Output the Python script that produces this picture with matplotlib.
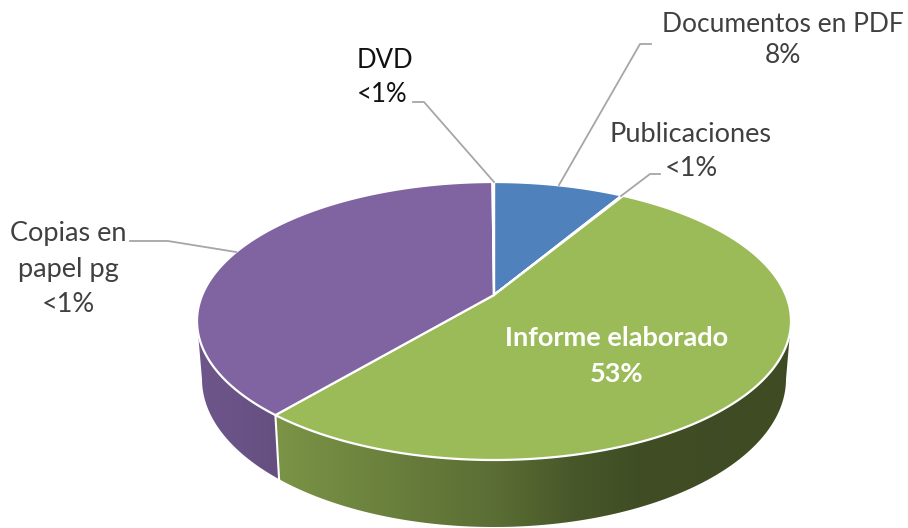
import numpy as np
import matplotlib
matplotlib.use('Agg')
import matplotlib.pyplot as plt
from matplotlib.patches import Polygon
from matplotlib.colors import to_rgb

# clockwise from 12 o'clock
names = ['Documentos en PDF', 'Publicaciones', 'Informe elaborado', 'Copias en papel pg', 'DVD']
values = [8.49, 0.1, 52.5, 38.81, 0.1]
colors = ['#4f81bd', '#c0504d', '#9bbb59', '#8064a2', '#4bacc6']
pct_labels = ['8%', '<1%', '53%', '<1%', '<1%']

# pie geometry in pixels
cx, cy = 494, 321
rx, ry = 297, 139
apex = 26
k = 2 * apex / (2 * ry)
ax_u = rx * np.sqrt(1 - k**2)
bot_cx, bot_cy, bot_rx, bot_ry = 494, 379, 292, 148

shade_x = [197, 277, 500, 570, 640, 800]
shade_y = [0.86, 0.79, 0.58, 0.47, 0.41, 0.40]


def project(frac, r=1.0):
    # pie fraction -> pixel position on top face, with perspective
    th = 2 * np.pi * np.asarray(frac)
    u = r * np.sin(th)
    v = r * np.cos(th)
    w = 1 + k * v
    return cx + ax_u * u / w, cy - ry * (v + apex / ry) / w


def bottom(x, y):
    return bot_cx + (x - cx) * bot_rx / rx, bot_cy + (y - cy) * bot_ry / ry


fig = plt.figure(figsize=(9.08, 5.28), dpi=100)
ax = fig.add_axes([0, 0, 1, 1])
ax.axis('off')

edges = np.concatenate([[0], np.cumsum(values)]) / sum(values)
xs = np.arange(908)
shade = np.interp(xs, shade_x, shade_y)

# only the part of the rim between the two extreme points faces the viewer
fine = np.linspace(0, 1, 2001)
fx, fy = project(fine)
front_a, front_b = fine[np.argmax(fx)], fine[np.argmin(fx)]

# side wall
for i in range(len(values)):
    a, b = max(edges[i], front_a), min(edges[i + 1], front_b)
    if b <= a:
        continue
    t = np.linspace(a, b, 200)
    x, y = project(t)
    bx, by = bottom(x, y)
    pts = np.column_stack([np.r_[x, bx[::-1]], np.r_[y, by[::-1]]])
    img = np.outer(shade, to_rgb(colors[i])).reshape(1, 908, 3)
    im = ax.imshow(img, extent=[0, 908, 528, 0], aspect='auto', zorder=1)
    clip = Polygon(pts, closed=True, transform=ax.transData, fc='none', ec='none')
    ax.add_patch(clip)
    im.set_clip_path(clip)

for e in edges[:-1]:
    if front_a < e < front_b:
        x, y = project(e)
        bx, by = bottom(x, y)
        ax.plot([x, bx], [y, by], color='white', lw=1.5, zorder=2)

# top face
for i in range(len(values)):
    t = np.linspace(edges[i], edges[i + 1], 200)
    x, y = project(t)
    ox, oy = project(0.0, 0.0)
    pts = np.column_stack([np.r_[ox, x], np.r_[oy, y]])
    ax.add_patch(Polygon(pts, closed=True, fc=colors[i], ec='white', lw=1.6, zorder=3, joinstyle='round'))

# labels
txt = '#404040'
fam = ['Lato', 'DejaVu Sans']
ax.text(783, 40, names[0] + '\n' + pct_labels[0], ha='center', va='center', fontsize=19, color=txt, linespacing=1.33, zorder=5, family=fam)
ax.text(691, 151, names[1] + '\n' + pct_labels[1], ha='center', va='center', fontsize=19.5, color=txt, linespacing=1.45, zorder=5, family=fam)
ax.text(617, 356, names[2] + '\n' + pct_labels[2], ha='center', va='center', fontsize=19.5, color='white', fontweight='bold', linespacing=1.55, zorder=5, family=fam)
ax.text(68, 269, 'Copias en\npapel pg\n' + pct_labels[3], ha='center', va='center', fontsize=19.5, color=txt, linespacing=1.5, zorder=5, family=fam)
ax.text(357, 77, names[4] + '\n' + pct_labels[4], ha='left', va='center', fontsize=18.5, color='#111111', linespacing=1.45, zorder=5, family=fam)

# leader lines
lead = '#a6a6a6'
ax.plot([413, 424, 494], [102, 102, 182], color=lead, lw=1.3, zorder=4)
ax.plot([651, 640, 559], [44, 44, 185], color=lead, lw=1.3, zorder=4)
ax.plot([660, 650, 621], [174, 174, 196], color=lead, lw=1.3, zorder=4)
ax.plot([130, 168, 236], [241, 241, 252], color=lead, lw=1.3, zorder=4)

ax.set_xlim(0, 908)
ax.set_ylim(528, 0)
fig.savefig('out.png', dpi=100, facecolor='white')
